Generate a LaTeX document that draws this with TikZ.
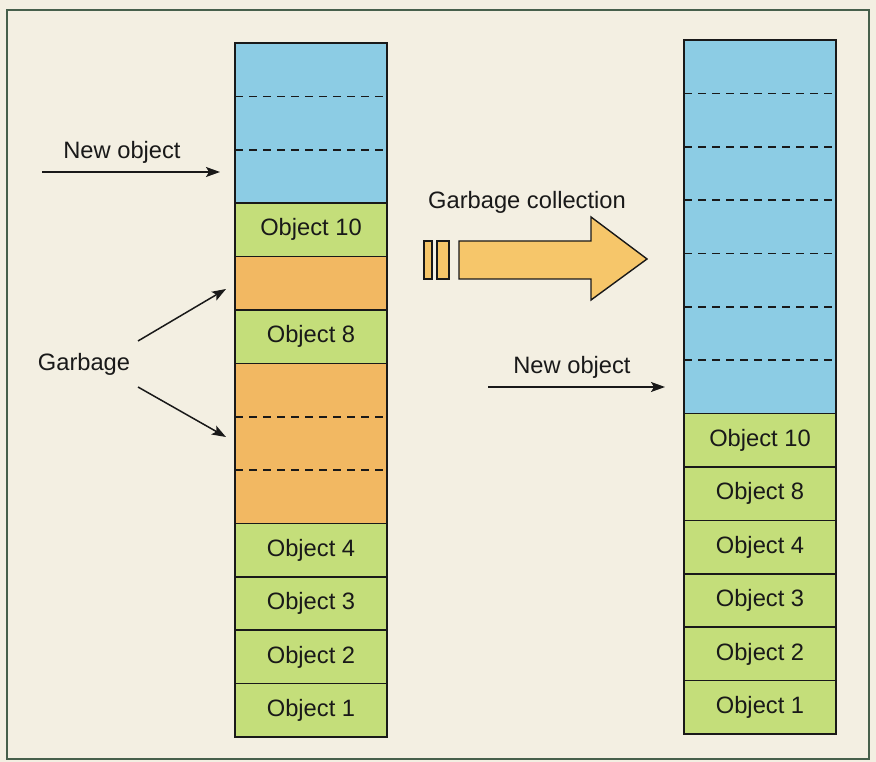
\documentclass[tikz,border=0pt]{standalone}
\usepackage{fontspec}
\setmainfont{Liberation Sans}
\usetikzlibrary{calc,positioning,arrows.meta}
\definecolor{bgc}{RGB}{243,239,226}
\definecolor{framec}{RGB}{70,95,75}
\definecolor{bluec}{RGB}{140,204,228}
\definecolor{greenc}{RGB}{196,222,122}
\definecolor{orangec}{RGB}{242,184,98}
\definecolor{arrowc}{RGB}{246,198,106}
\definecolor{inkc}{RGB}{25,25,25}
\tikzset{
  cell/.style={draw=inkc, line width=1.5pt, minimum width=152pt, minimum height=53.38pt,
    inner sep=0pt, outer sep=0pt, font=\fontsize{23.7}{28}\selectfont, text=inkc},
  freecell/.style={cell, fill=bluec, minimum height=#1},
  objcell/.style={cell, fill=greenc},
  garbcell/.style={cell, fill=orangec, minimum height=#1},
  dashline/.style={draw=inkc, line width=1.7pt, dash pattern=on 8pt off 6pt},
  lbl/.style={font=\fontsize{23.7}{28}\selectfont, text=inkc, inner sep=0pt},
  ptr/.style={draw=inkc, line width=1.5pt, -{Stealth[length=14pt,width=10pt,inset=3pt]}},
  bigarrow/.style={fill=arrowc, draw=inkc, line width=1.4pt, line join=miter}
}
\begin{document}
\begin{tikzpicture}[x=1pt,y=-1pt]
\useasboundingbox (0,0) rectangle (876,762);
\fill[bgc] (0,0) rectangle (876,762);
\draw[framec, line width=1.8pt] (7,10) rectangle (869,759);

% left stack
\node[freecell=160.14pt, anchor=north] (lblue) at (311,43) {};
\node[objcell, below=0pt of lblue] (lo10) {Object 10};
\node[garbcell=53.38pt, below=0pt of lo10] (lg1) {};
\node[objcell, below=0pt of lg1] (lo8) {Object 8};
\node[garbcell=160.14pt, below=0pt of lo8] (lg2) {};
\node[objcell, below=0pt of lg2] (lo4) {Object 4};
\node[objcell, below=0pt of lo4] (lo3) {Object 3};
\node[objcell, below=0pt of lo3] (lo2) {Object 2};
\node[objcell, below=0pt of lo2] (lo1) {Object 1};
\foreach \n in {lblue,lg2}{
  \foreach \f in {1/3,2/3}{
    \draw[dashline] ($(\n.north west)!\f!(\n.south west)$) -- ($(\n.north east)!\f!(\n.south east)$);
  }
}

% right stack
\node[freecell=373.66pt, anchor=north] (rblue) at (760,40) {};
\node[objcell, below=0pt of rblue] (ro10) {Object 10};
\node[objcell, below=0pt of ro10] (ro8) {Object 8};
\node[objcell, below=0pt of ro8] (ro4) {Object 4};
\node[objcell, below=0pt of ro4] (ro3) {Object 3};
\node[objcell, below=0pt of ro3] (ro2) {Object 2};
\node[objcell, below=0pt of ro2] (ro1) {Object 1};
\foreach \f in {1/7,2/7,3/7,4/7,5/7,6/7}{
  \draw[dashline] ($(rblue.north west)!\f!(rblue.south west)$) -- ($(rblue.north east)!\f!(rblue.south east)$);
}

% labels and pointers
\node[lbl] (newl) at (122,152) {New object};
\coordinate (newls) at (42,172);
\coordinate (newle) at (220,172);
\draw[ptr] (newls) -- (newle);

\node[lbl] (newr) at (572,367) {New object};
\coordinate (newrs) at (488,387);
\coordinate (newre) at (665,387);
\draw[ptr] (newrs) -- (newre);

\node[lbl] (garb) at (84,364) {Garbage};
\coordinate (ga1) at (138,341);
\coordinate (ga2) at (138,387);
\coordinate (gb1) at (226,289);
\coordinate (gb2) at (226,437);
\draw[ptr] (ga1) -- (gb1);
\draw[ptr] (ga2) -- (gb2);

\node[lbl] (gc) at (527,202) {Garbage collection};
\draw[bigarrow] (424,241) rectangle (432,279);
\draw[bigarrow] (437,241) rectangle (449,279);
\draw[bigarrow] (459,241) -- (591,241) -- (591,217) -- (647,259) -- (591,300) -- (591,279) -- (459,279) -- cycle;
\end{tikzpicture}
\end{document}
